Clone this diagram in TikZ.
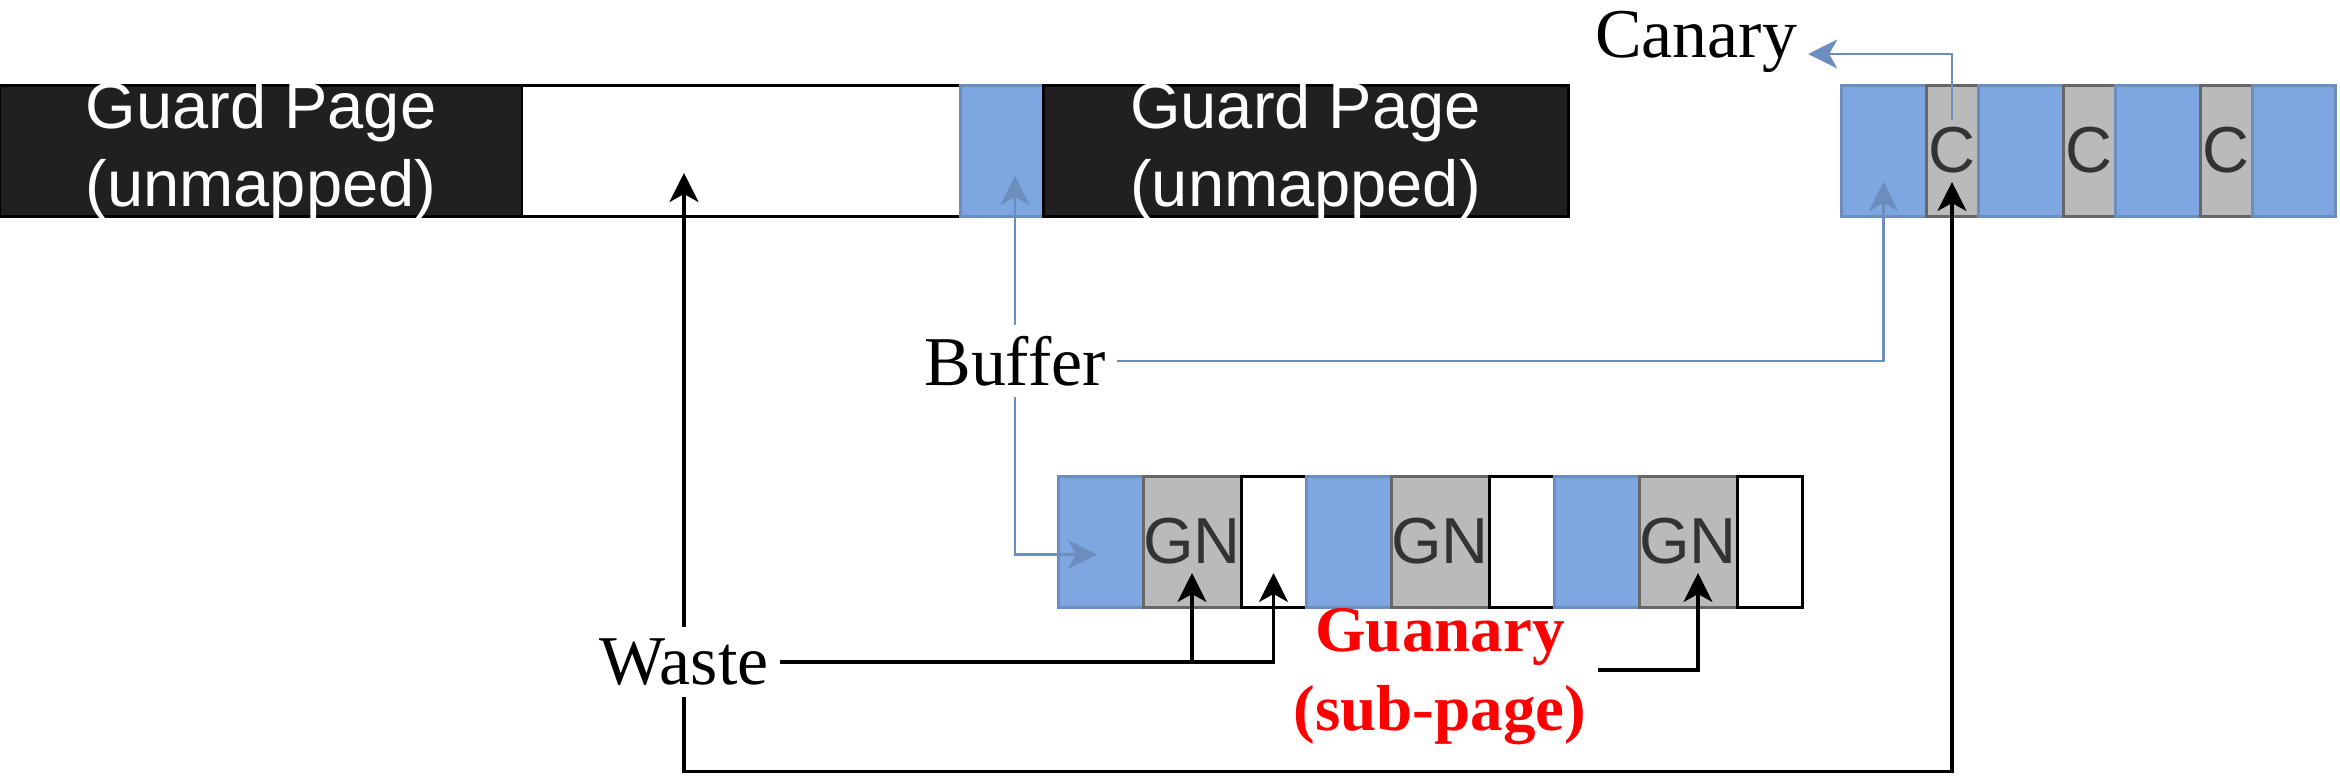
\documentclass[tikz,border=0pt]{standalone}
\usepackage{fontspec}
\setmainfont{Liberation Serif}
\setsansfont{Liberation Sans}
\usepackage{tikz}
\usetikzlibrary{arrows.meta,positioning}
\definecolor{guardgray}{HTML}{202020}
\definecolor{bluefill}{HTML}{7EA6E0}
\definecolor{blueline}{HTML}{6C8EBF}
\definecolor{grayfill}{HTML}{BABABA}
\definecolor{grayline}{HTML}{666666}
\definecolor{textgray}{HTML}{333333}
\tikzset{
  cell/.style={minimum height=1.31cm, inner sep=0pt, outer sep=0pt, line width=0.85pt},
  guard/.style={cell, draw=black, fill=guardgray,
    label={[text=white, align=center, inner sep=0pt,
      font=\sffamily\fontsize{18.5}{22.2}\selectfont]center:#1}},
  cellblue/.style={cell, draw=blueline, fill=bluefill},
  cellgray/.style={cell, draw=grayline, fill=grayfill, text=textgray,
    font=\sffamily\fontsize{18.5}{22.2}\selectfont},
  cellwhite/.style={cell, draw=black, fill=white},
  lbl/.style={font=\fontsize{19.9}{24}\selectfont, inner sep=3pt},
  redlbl/.style={lbl, text=red, align=center, font=\bfseries\fontsize{18.5}{22.5}\selectfont},
  arr/.style={-{Stealth[length=2.9mm,width=2.9mm,inset=0.8mm]}, line width=0.9pt},
  barr/.style={arr, draw=blueline, line width=0.75pt}
}
\begin{document}
\begin{tikzpicture}[node distance=0pt]
\useasboundingbox (0,0) rectangle (23.40,-7.76);

% top row
\node[guard={Guard Page\\(unmapped)}, minimum width=5.22cm] (gpl) at (2.61,-1.505) {};
\node[cellwhite, minimum width=4.38cm, right=of gpl] (wbox) {};
\node[cellblue, minimum width=0.83cm, right=of wbox] (bsmall) {};
\node[guard={Guard Page\\(unmapped)}, minimum width=5.25cm, right=of bsmall] (gpr) {};

% canary strip
\node[cellblue, minimum width=0.85cm] (cb1) at (18.835,-1.505) {};
\node[cellgray, minimum width=0.52cm, right=of cb1] (c1) {C};
\node[cellblue, minimum width=0.85cm, right=of c1] (cb2) {};
\node[cellgray, minimum width=0.52cm, right=of cb2] (c2) {C};
\node[cellblue, minimum width=0.85cm, right=of c2] (cb3) {};
\node[cellgray, minimum width=0.52cm, right=of cb3] (c3) {C};
\node[cellblue, minimum width=0.83cm, right=of c3] (cb4) {};

% guanary strip
\node[cellblue, minimum width=0.85cm] (gb1) at (11.005,-5.415) {};
\node[cellgray, minimum width=0.98cm, right=of gb1] (gn1) {GN};
\node[cellwhite, minimum width=0.65cm, right=of gn1] (gw1) {};
\node[cellblue, minimum width=0.85cm, right=of gw1] (gb2) {};
\node[cellgray, minimum width=0.98cm, right=of gb2] (gn2) {GN};
\node[cellwhite, minimum width=0.65cm, right=of gn2] (gw2) {};
\node[cellblue, minimum width=0.85cm, right=of gw2] (gb3) {};
\node[cellgray, minimum width=0.98cm, right=of gb3] (gn3) {GN};
\node[cellwhite, minimum width=0.65cm, right=of gn3] (gw3) {};

% labels
\node[lbl] (canary) at (16.96,-0.42) {Canary};
\node[lbl] (buffer) at (10.15,-3.61) {Buffer};
\node[lbl] (waste) at (6.84,-6.62) {Waste};
\node[redlbl] (guanary) at (14.40,-6.77) {Guanary\\(sub-page)};

\coordinate (btip) at ([yshift=4mm]bsmall.south);
\coordinate (wtip) at ([yshift=4.3mm]wbox.south);

% buffer arrows
\draw[barr] ([yshift=-3.5mm]c1.north) |- ([yshift=-1.2mm]canary.east);
\draw[barr] (buffer.east) -| ([yshift=3.4mm]cb1.south);
\draw[barr] (buffer.north) -- (buffer.north |- btip);
\draw[barr] (buffer.south) |- ([xshift=3.9mm,yshift=-1.3mm]gb1.west);

% waste arrows
\draw[arr] (waste.north) -- (waste.north |- wtip);
\draw[arr] (waste.east) -| ([yshift=3.4mm]gw1.south);
\draw[arr] (waste.east) -| ([yshift=3.4mm]gn1.south);
\draw[arr] (waste.south) -- ++(0,-0.75) -| ([yshift=3.4mm]c1.south);
\draw[arr] ([yshift=0.7mm]guanary.east) -| ([xshift=1mm,yshift=3.4mm]gn3.south);
\end{tikzpicture}
\end{document}
